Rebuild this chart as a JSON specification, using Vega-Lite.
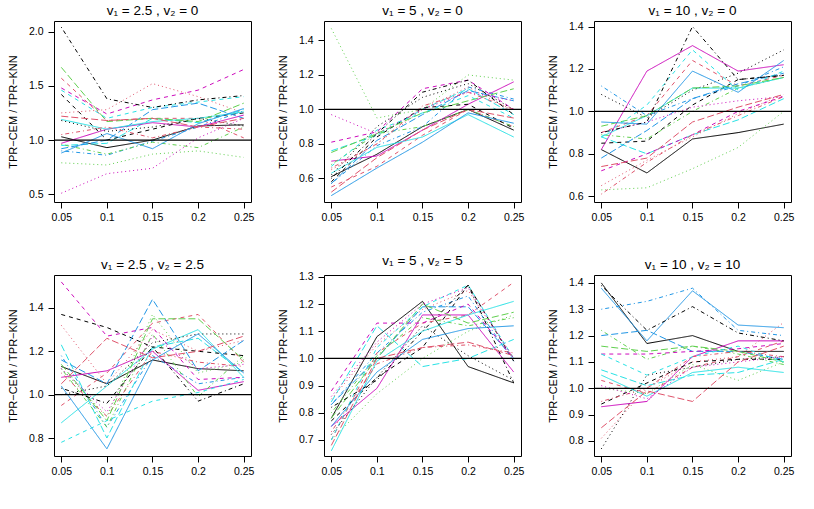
{
"$schema": "https://vega.github.io/schema/vega-lite/v6.json",
"padding": {"left": 6, "top": 3, "right": 5, "bottom": 5},
"background": "white",
"datasets": {"d": [
{"p":1,"s":1,"x":0.05,"y":1.03},{"p":1,"s":1,"x":0.1,"y":0.93},{"p":1,"s":1,"x":0.15,"y":1.0},{"p":1,"s":1,"x":0.2,"y":1.13},{"p":1,"s":1,"x":0.25,"y":1.14},
{"p":1,"s":2,"x":0.05,"y":1.57},{"p":1,"s":2,"x":0.1,"y":1.18},{"p":1,"s":2,"x":0.15,"y":1.2},{"p":1,"s":2,"x":0.2,"y":1.2},{"p":1,"s":2,"x":0.25,"y":1.02},
{"p":1,"s":3,"x":0.05,"y":0.79},{"p":1,"s":3,"x":0.1,"y":0.77},{"p":1,"s":3,"x":0.15,"y":0.87},{"p":1,"s":3,"x":0.2,"y":0.9},{"p":1,"s":3,"x":0.25,"y":0.84},
{"p":1,"s":4,"x":0.05,"y":0.9},{"p":1,"s":4,"x":0.1,"y":0.86},{"p":1,"s":4,"x":0.15,"y":0.99},{"p":1,"s":4,"x":0.2,"y":1.12},{"p":1,"s":4,"x":0.25,"y":1.27},
{"p":1,"s":5,"x":0.05,"y":0.95},{"p":1,"s":5,"x":0.1,"y":0.97},{"p":1,"s":5,"x":0.15,"y":1.2},{"p":1,"s":5,"x":0.2,"y":1.16},{"p":1,"s":5,"x":0.25,"y":1.28},
{"p":1,"s":6,"x":0.05,"y":0.97},{"p":1,"s":6,"x":0.1,"y":1.1},{"p":1,"s":6,"x":0.15,"y":1.16},{"p":1,"s":6,"x":0.2,"y":1.12},{"p":1,"s":6,"x":0.25,"y":1.23},
{"p":1,"s":7,"x":0.05,"y":1.42},{"p":1,"s":7,"x":0.1,"y":1.0},{"p":1,"s":7,"x":0.15,"y":1.1},{"p":1,"s":7,"x":0.2,"y":1.2},{"p":1,"s":7,"x":0.25,"y":1.25},
{"p":1,"s":8,"x":0.05,"y":1.25},{"p":1,"s":8,"x":0.1,"y":1.28},{"p":1,"s":8,"x":0.15,"y":1.52},{"p":1,"s":8,"x":0.2,"y":1.4},{"p":1,"s":8,"x":0.25,"y":1.25},
{"p":1,"s":9,"x":0.05,"y":0.96},{"p":1,"s":9,"x":0.1,"y":0.87},{"p":1,"s":9,"x":0.15,"y":0.98},{"p":1,"s":9,"x":0.2,"y":0.93},{"p":1,"s":9,"x":0.25,"y":1.12},
{"p":1,"s":10,"x":0.05,"y":0.92},{"p":1,"s":10,"x":0.1,"y":1.0},{"p":1,"s":10,"x":0.15,"y":1.28},{"p":1,"s":10,"x":0.2,"y":1.34},{"p":1,"s":10,"x":0.25,"y":1.2},
{"p":1,"s":11,"x":0.05,"y":1.19},{"p":1,"s":11,"x":0.1,"y":1.1},{"p":1,"s":11,"x":0.15,"y":1.17},{"p":1,"s":11,"x":0.2,"y":1.2},{"p":1,"s":11,"x":0.25,"y":1.26},
{"p":1,"s":12,"x":0.05,"y":1.48},{"p":1,"s":12,"x":0.1,"y":1.24},{"p":1,"s":12,"x":0.15,"y":1.37},{"p":1,"s":12,"x":0.2,"y":1.46},{"p":1,"s":12,"x":0.25,"y":1.65},
{"p":1,"s":13,"x":0.05,"y":1.18},{"p":1,"s":13,"x":0.1,"y":1.08},{"p":1,"s":13,"x":0.15,"y":1.12},{"p":1,"s":13,"x":0.2,"y":1.2},{"p":1,"s":13,"x":0.25,"y":1.13},
{"p":1,"s":14,"x":0.05,"y":1.05},{"p":1,"s":14,"x":0.1,"y":1.12},{"p":1,"s":14,"x":0.15,"y":1.02},{"p":1,"s":14,"x":0.2,"y":1.12},{"p":1,"s":14,"x":0.25,"y":1.1},
{"p":1,"s":15,"x":0.05,"y":1.67},{"p":1,"s":15,"x":0.1,"y":1.17},{"p":1,"s":15,"x":0.15,"y":1.2},{"p":1,"s":15,"x":0.2,"y":1.17},{"p":1,"s":15,"x":0.25,"y":1.34},
{"p":1,"s":16,"x":0.05,"y":0.88},{"p":1,"s":16,"x":0.1,"y":1.06},{"p":1,"s":16,"x":0.15,"y":0.92},{"p":1,"s":16,"x":0.2,"y":1.15},{"p":1,"s":16,"x":0.25,"y":1.29},
{"p":1,"s":17,"x":0.05,"y":1.46},{"p":1,"s":17,"x":0.1,"y":1.2},{"p":1,"s":17,"x":0.15,"y":1.3},{"p":1,"s":17,"x":0.2,"y":1.35},{"p":1,"s":17,"x":0.25,"y":1.4},
{"p":1,"s":18,"x":0.05,"y":0.51},{"p":1,"s":18,"x":0.1,"y":0.69},{"p":1,"s":18,"x":0.15,"y":0.74},{"p":1,"s":18,"x":0.2,"y":1.02},{"p":1,"s":18,"x":0.25,"y":1.2},
{"p":1,"s":19,"x":0.05,"y":2.04},{"p":1,"s":19,"x":0.1,"y":1.38},{"p":1,"s":19,"x":0.15,"y":1.3},{"p":1,"s":19,"x":0.2,"y":1.37},{"p":1,"s":19,"x":0.25,"y":1.41},
{"p":1,"s":20,"x":0.05,"y":1.22},{"p":1,"s":20,"x":0.1,"y":1.18},{"p":1,"s":20,"x":0.15,"y":1.2},{"p":1,"s":20,"x":0.2,"y":1.12},{"p":1,"s":20,"x":0.25,"y":1.2},

{"p":2,"s":1,"x":0.05,"y":0.61},{"p":2,"s":1,"x":0.1,"y":0.74},{"p":2,"s":1,"x":0.15,"y":0.9},{"p":2,"s":1,"x":0.2,"y":1.0},{"p":2,"s":1,"x":0.25,"y":0.88},
{"p":2,"s":2,"x":0.05,"y":0.55},{"p":2,"s":2,"x":0.1,"y":0.67},{"p":2,"s":2,"x":0.15,"y":0.85},{"p":2,"s":2,"x":0.2,"y":1.0},{"p":2,"s":2,"x":0.25,"y":0.9},
{"p":2,"s":3,"x":0.05,"y":1.47},{"p":2,"s":3,"x":0.1,"y":0.95},{"p":2,"s":3,"x":0.15,"y":1.0},{"p":2,"s":3,"x":0.2,"y":1.2},{"p":2,"s":3,"x":0.25,"y":1.17},
{"p":2,"s":4,"x":0.05,"y":0.57},{"p":2,"s":4,"x":0.1,"y":0.79},{"p":2,"s":4,"x":0.15,"y":0.9},{"p":2,"s":4,"x":0.2,"y":1.13},{"p":2,"s":4,"x":0.25,"y":1.06},
{"p":2,"s":5,"x":0.05,"y":0.76},{"p":2,"s":5,"x":0.1,"y":0.85},{"p":2,"s":5,"x":0.15,"y":1.0},{"p":2,"s":5,"x":0.2,"y":1.12},{"p":2,"s":5,"x":0.25,"y":0.97},
{"p":2,"s":6,"x":0.05,"y":0.7},{"p":2,"s":6,"x":0.1,"y":0.73},{"p":2,"s":6,"x":0.15,"y":0.88},{"p":2,"s":6,"x":0.2,"y":1.03},{"p":2,"s":6,"x":0.25,"y":1.16},
{"p":2,"s":7,"x":0.05,"y":0.58},{"p":2,"s":7,"x":0.1,"y":0.84},{"p":2,"s":7,"x":0.15,"y":1.01},{"p":2,"s":7,"x":0.2,"y":1.03},{"p":2,"s":7,"x":0.25,"y":0.89},
{"p":2,"s":8,"x":0.05,"y":0.65},{"p":2,"s":8,"x":0.1,"y":0.8},{"p":2,"s":8,"x":0.15,"y":1.0},{"p":2,"s":8,"x":0.2,"y":1.13},{"p":2,"s":8,"x":0.25,"y":0.99},
{"p":2,"s":9,"x":0.05,"y":0.68},{"p":2,"s":9,"x":0.1,"y":0.86},{"p":2,"s":9,"x":0.15,"y":0.9},{"p":2,"s":9,"x":0.2,"y":1.0},{"p":2,"s":9,"x":0.25,"y":0.9},
{"p":2,"s":10,"x":0.05,"y":0.57},{"p":2,"s":10,"x":0.1,"y":0.82},{"p":2,"s":10,"x":0.15,"y":0.97},{"p":2,"s":10,"x":0.2,"y":1.11},{"p":2,"s":10,"x":0.25,"y":1.05},
{"p":2,"s":11,"x":0.05,"y":0.63},{"p":2,"s":11,"x":0.1,"y":0.78},{"p":2,"s":11,"x":0.15,"y":0.84},{"p":2,"s":11,"x":0.2,"y":0.97},{"p":2,"s":11,"x":0.25,"y":0.84},
{"p":2,"s":12,"x":0.05,"y":0.81},{"p":2,"s":12,"x":0.1,"y":0.87},{"p":2,"s":12,"x":0.15,"y":1.12},{"p":2,"s":12,"x":0.2,"y":1.17},{"p":2,"s":12,"x":0.25,"y":1.0},
{"p":2,"s":13,"x":0.05,"y":0.62},{"p":2,"s":13,"x":0.1,"y":0.9},{"p":2,"s":13,"x":0.15,"y":1.07},{"p":2,"s":13,"x":0.2,"y":1.15},{"p":2,"s":13,"x":0.25,"y":1.0},
{"p":2,"s":14,"x":0.05,"y":0.66},{"p":2,"s":14,"x":0.1,"y":0.8},{"p":2,"s":14,"x":0.15,"y":1.02},{"p":2,"s":14,"x":0.2,"y":1.1},{"p":2,"s":14,"x":0.25,"y":1.0},
{"p":2,"s":15,"x":0.05,"y":0.75},{"p":2,"s":15,"x":0.1,"y":0.86},{"p":2,"s":15,"x":0.15,"y":0.98},{"p":2,"s":15,"x":0.2,"y":1.05},{"p":2,"s":15,"x":0.25,"y":1.12},
{"p":2,"s":16,"x":0.05,"y":0.5},{"p":2,"s":16,"x":0.1,"y":0.66},{"p":2,"s":16,"x":0.15,"y":0.81},{"p":2,"s":16,"x":0.2,"y":0.98},{"p":2,"s":16,"x":0.25,"y":0.92},
{"p":2,"s":17,"x":0.05,"y":0.67},{"p":2,"s":17,"x":0.1,"y":0.88},{"p":2,"s":17,"x":0.15,"y":0.98},{"p":2,"s":17,"x":0.2,"y":1.08},{"p":2,"s":17,"x":0.25,"y":0.95},
{"p":2,"s":18,"x":0.05,"y":0.97},{"p":2,"s":18,"x":0.1,"y":0.86},{"p":2,"s":18,"x":0.15,"y":1.0},{"p":2,"s":18,"x":0.2,"y":1.1},{"p":2,"s":18,"x":0.25,"y":1.05},
{"p":2,"s":19,"x":0.05,"y":0.6},{"p":2,"s":19,"x":0.1,"y":0.86},{"p":2,"s":19,"x":0.15,"y":1.1},{"p":2,"s":19,"x":0.2,"y":1.17},{"p":2,"s":19,"x":0.25,"y":0.97},
{"p":2,"s":20,"x":0.05,"y":0.52},{"p":2,"s":20,"x":0.1,"y":0.72},{"p":2,"s":20,"x":0.15,"y":0.88},{"p":2,"s":20,"x":0.2,"y":1.0},{"p":2,"s":20,"x":0.25,"y":0.95},

{"p":3,"s":1,"x":0.05,"y":0.82},{"p":3,"s":1,"x":0.1,"y":0.71},{"p":3,"s":1,"x":0.15,"y":0.87},{"p":3,"s":1,"x":0.2,"y":0.9},{"p":3,"s":1,"x":0.25,"y":0.94},
{"p":3,"s":2,"x":0.05,"y":0.9},{"p":3,"s":2,"x":0.1,"y":0.98},{"p":3,"s":2,"x":0.15,"y":1.24},{"p":3,"s":2,"x":0.2,"y":1.12},{"p":3,"s":2,"x":0.25,"y":1.17},
{"p":3,"s":3,"x":0.05,"y":0.63},{"p":3,"s":3,"x":0.1,"y":0.64},{"p":3,"s":3,"x":0.15,"y":0.73},{"p":3,"s":3,"x":0.2,"y":0.83},{"p":3,"s":3,"x":0.25,"y":1.0},
{"p":3,"s":4,"x":0.05,"y":1.12},{"p":3,"s":4,"x":0.1,"y":0.98},{"p":3,"s":4,"x":0.15,"y":1.06},{"p":3,"s":4,"x":0.2,"y":1.12},{"p":3,"s":4,"x":0.25,"y":1.21},
{"p":3,"s":5,"x":0.05,"y":0.88},{"p":3,"s":5,"x":0.1,"y":0.8},{"p":3,"s":5,"x":0.15,"y":0.89},{"p":3,"s":5,"x":0.2,"y":0.96},{"p":3,"s":5,"x":0.25,"y":1.06},
{"p":3,"s":6,"x":0.05,"y":0.82},{"p":3,"s":6,"x":0.1,"y":1.19},{"p":3,"s":6,"x":0.15,"y":1.31},{"p":3,"s":6,"x":0.2,"y":1.19},{"p":3,"s":6,"x":0.25,"y":1.22},
{"p":3,"s":7,"x":0.05,"y":0.85},{"p":3,"s":7,"x":0.1,"y":0.86},{"p":3,"s":7,"x":0.15,"y":1.03},{"p":3,"s":7,"x":0.2,"y":1.15},{"p":3,"s":7,"x":0.25,"y":1.17},
{"p":3,"s":8,"x":0.05,"y":0.65},{"p":3,"s":8,"x":0.1,"y":0.77},{"p":3,"s":8,"x":0.15,"y":0.88},{"p":3,"s":8,"x":0.2,"y":0.99},{"p":3,"s":8,"x":0.25,"y":1.08},
{"p":3,"s":9,"x":0.05,"y":0.89},{"p":3,"s":9,"x":0.1,"y":0.87},{"p":3,"s":9,"x":0.15,"y":1.0},{"p":3,"s":9,"x":0.2,"y":1.11},{"p":3,"s":9,"x":0.25,"y":1.16},
{"p":3,"s":10,"x":0.05,"y":0.78},{"p":3,"s":10,"x":0.1,"y":0.91},{"p":3,"s":10,"x":0.15,"y":1.06},{"p":3,"s":10,"x":0.2,"y":1.13},{"p":3,"s":10,"x":0.25,"y":1.18},
{"p":3,"s":11,"x":0.05,"y":0.88},{"p":3,"s":11,"x":0.1,"y":0.98},{"p":3,"s":11,"x":0.15,"y":1.11},{"p":3,"s":11,"x":0.2,"y":1.11},{"p":3,"s":11,"x":0.25,"y":1.16},
{"p":3,"s":12,"x":0.05,"y":0.72},{"p":3,"s":12,"x":0.1,"y":0.8},{"p":3,"s":12,"x":0.15,"y":0.89},{"p":3,"s":12,"x":0.2,"y":1.0},{"p":3,"s":12,"x":0.25,"y":1.07},
{"p":3,"s":13,"x":0.05,"y":1.08},{"p":3,"s":13,"x":0.1,"y":0.97},{"p":3,"s":13,"x":0.15,"y":1.1},{"p":3,"s":13,"x":0.2,"y":1.18},{"p":3,"s":13,"x":0.25,"y":1.29},
{"p":3,"s":14,"x":0.05,"y":0.61},{"p":3,"s":14,"x":0.1,"y":0.76},{"p":3,"s":14,"x":0.15,"y":0.89},{"p":3,"s":14,"x":0.2,"y":0.98},{"p":3,"s":14,"x":0.25,"y":1.07},
{"p":3,"s":15,"x":0.05,"y":0.93},{"p":3,"s":15,"x":0.1,"y":0.98},{"p":3,"s":15,"x":0.15,"y":1.11},{"p":3,"s":15,"x":0.2,"y":1.12},{"p":3,"s":15,"x":0.25,"y":1.16},
{"p":3,"s":16,"x":0.05,"y":0.95},{"p":3,"s":16,"x":0.1,"y":0.94},{"p":3,"s":16,"x":0.15,"y":1.19},{"p":3,"s":16,"x":0.2,"y":1.09},{"p":3,"s":16,"x":0.25,"y":1.24},
{"p":3,"s":17,"x":0.05,"y":0.88},{"p":3,"s":17,"x":0.1,"y":1.03},{"p":3,"s":17,"x":0.15,"y":1.29},{"p":3,"s":17,"x":0.2,"y":1.1},{"p":3,"s":17,"x":0.25,"y":1.19},
{"p":3,"s":18,"x":0.05,"y":0.9},{"p":3,"s":18,"x":0.1,"y":0.95},{"p":3,"s":18,"x":0.15,"y":1.02},{"p":3,"s":18,"x":0.2,"y":1.05},{"p":3,"s":18,"x":0.25,"y":1.07},
{"p":3,"s":19,"x":0.05,"y":0.9},{"p":3,"s":19,"x":0.1,"y":0.95},{"p":3,"s":19,"x":0.15,"y":1.4},{"p":3,"s":19,"x":0.2,"y":1.15},{"p":3,"s":19,"x":0.25,"y":1.17},
{"p":3,"s":20,"x":0.05,"y":0.74},{"p":3,"s":20,"x":0.1,"y":0.78},{"p":3,"s":20,"x":0.15,"y":0.95},{"p":3,"s":20,"x":0.2,"y":1.02},{"p":3,"s":20,"x":0.25,"y":1.08},

{"p":4,"s":1,"x":0.05,"y":1.13},{"p":4,"s":1,"x":0.1,"y":1.05},{"p":4,"s":1,"x":0.15,"y":1.16},{"p":4,"s":1,"x":0.2,"y":1.12},{"p":4,"s":1,"x":0.25,"y":1.11},
{"p":4,"s":2,"x":0.05,"y":0.95},{"p":4,"s":2,"x":0.1,"y":1.1},{"p":4,"s":2,"x":0.15,"y":1.33},{"p":4,"s":2,"x":0.2,"y":1.37},{"p":4,"s":2,"x":0.25,"y":1.15},
{"p":4,"s":3,"x":0.05,"y":1.12},{"p":4,"s":3,"x":0.1,"y":0.9},{"p":4,"s":3,"x":0.15,"y":1.37},{"p":4,"s":3,"x":0.2,"y":1.1},{"p":4,"s":3,"x":0.25,"y":1.15},
{"p":4,"s":4,"x":0.05,"y":1.18},{"p":4,"s":4,"x":0.1,"y":0.85},{"p":4,"s":4,"x":0.15,"y":1.18},{"p":4,"s":4,"x":0.2,"y":1.05},{"p":4,"s":4,"x":0.25,"y":1.08},
{"p":4,"s":5,"x":0.05,"y":1.23},{"p":4,"s":5,"x":0.1,"y":0.8},{"p":4,"s":5,"x":0.15,"y":1.22},{"p":4,"s":5,"x":0.2,"y":1.26},{"p":4,"s":5,"x":0.25,"y":1.1},
{"p":4,"s":6,"x":0.05,"y":1.08},{"p":4,"s":6,"x":0.1,"y":1.11},{"p":4,"s":6,"x":0.15,"y":1.2},{"p":4,"s":6,"x":0.2,"y":1.02},{"p":4,"s":6,"x":0.25,"y":1.06},
{"p":4,"s":7,"x":0.05,"y":1.37},{"p":4,"s":7,"x":0.1,"y":1.31},{"p":4,"s":7,"x":0.15,"y":1.22},{"p":4,"s":7,"x":0.2,"y":1.2},{"p":4,"s":7,"x":0.25,"y":1.18},
{"p":4,"s":8,"x":0.05,"y":1.32},{"p":4,"s":8,"x":0.1,"y":1.05},{"p":4,"s":8,"x":0.15,"y":1.3},{"p":4,"s":8,"x":0.2,"y":1.2},{"p":4,"s":8,"x":0.25,"y":1.25},
{"p":4,"s":9,"x":0.05,"y":1.12},{"p":4,"s":9,"x":0.1,"y":0.85},{"p":4,"s":9,"x":0.15,"y":1.28},{"p":4,"s":9,"x":0.2,"y":0.99},{"p":4,"s":9,"x":0.25,"y":1.18},
{"p":4,"s":10,"x":0.05,"y":1.16},{"p":4,"s":10,"x":0.1,"y":1.05},{"p":4,"s":10,"x":0.15,"y":1.44},{"p":4,"s":10,"x":0.2,"y":1.11},{"p":4,"s":10,"x":0.25,"y":1.25},
{"p":4,"s":11,"x":0.05,"y":0.87},{"p":4,"s":11,"x":0.1,"y":1.04},{"p":4,"s":11,"x":0.15,"y":1.21},{"p":4,"s":11,"x":0.2,"y":1.3},{"p":4,"s":11,"x":0.25,"y":1.08},
{"p":4,"s":12,"x":0.05,"y":1.52},{"p":4,"s":12,"x":0.1,"y":1.27},{"p":4,"s":12,"x":0.15,"y":1.31},{"p":4,"s":12,"x":0.2,"y":1.07},{"p":4,"s":12,"x":0.25,"y":1.08},
{"p":4,"s":13,"x":0.05,"y":1.0},{"p":4,"s":13,"x":0.1,"y":1.04},{"p":4,"s":13,"x":0.15,"y":1.24},{"p":4,"s":13,"x":0.2,"y":1.28},{"p":4,"s":13,"x":0.25,"y":1.28},
{"p":4,"s":14,"x":0.05,"y":1.1},{"p":4,"s":14,"x":0.1,"y":0.9},{"p":4,"s":14,"x":0.15,"y":1.2},{"p":4,"s":14,"x":0.2,"y":1.15},{"p":4,"s":14,"x":0.25,"y":1.13},
{"p":4,"s":15,"x":0.05,"y":1.14},{"p":4,"s":15,"x":0.1,"y":0.88},{"p":4,"s":15,"x":0.15,"y":1.35},{"p":4,"s":15,"x":0.2,"y":1.35},{"p":4,"s":15,"x":0.25,"y":1.16},
{"p":4,"s":16,"x":0.05,"y":1.04},{"p":4,"s":16,"x":0.1,"y":0.75},{"p":4,"s":16,"x":0.15,"y":1.16},{"p":4,"s":16,"x":0.2,"y":1.28},{"p":4,"s":16,"x":0.25,"y":1.1},
{"p":4,"s":17,"x":0.05,"y":0.78},{"p":4,"s":17,"x":0.1,"y":0.88},{"p":4,"s":17,"x":0.15,"y":0.97},{"p":4,"s":17,"x":0.2,"y":1.01},{"p":4,"s":17,"x":0.25,"y":1.07},
{"p":4,"s":18,"x":0.05,"y":1.12},{"p":4,"s":18,"x":0.1,"y":0.92},{"p":4,"s":18,"x":0.15,"y":1.27},{"p":4,"s":18,"x":0.2,"y":1.12},{"p":4,"s":18,"x":0.25,"y":1.14},
{"p":4,"s":19,"x":0.05,"y":1.03},{"p":4,"s":19,"x":0.1,"y":0.96},{"p":4,"s":19,"x":0.15,"y":1.22},{"p":4,"s":19,"x":0.2,"y":0.97},{"p":4,"s":19,"x":0.25,"y":1.05},
{"p":4,"s":20,"x":0.05,"y":1.05},{"p":4,"s":20,"x":0.1,"y":1.26},{"p":4,"s":20,"x":0.15,"y":1.17},{"p":4,"s":20,"x":0.2,"y":1.2},{"p":4,"s":20,"x":0.25,"y":1.27},

{"p":5,"s":1,"x":0.05,"y":0.78},{"p":5,"s":1,"x":0.1,"y":1.08},{"p":5,"s":1,"x":0.15,"y":1.21},{"p":5,"s":1,"x":0.2,"y":0.97},{"p":5,"s":1,"x":0.25,"y":0.91},
{"p":5,"s":2,"x":0.05,"y":0.7},{"p":5,"s":2,"x":0.1,"y":1.02},{"p":5,"s":2,"x":0.15,"y":1.13},{"p":5,"s":2,"x":0.2,"y":1.16},{"p":5,"s":2,"x":0.25,"y":1.28},
{"p":5,"s":3,"x":0.05,"y":0.7},{"p":5,"s":3,"x":0.1,"y":0.87},{"p":5,"s":3,"x":0.15,"y":1.0},{"p":5,"s":3,"x":0.2,"y":1.1},{"p":5,"s":3,"x":0.25,"y":1.16},
{"p":5,"s":4,"x":0.05,"y":0.83},{"p":5,"s":4,"x":0.1,"y":1.02},{"p":5,"s":4,"x":0.15,"y":1.17},{"p":5,"s":4,"x":0.2,"y":1.23},{"p":5,"s":4,"x":0.25,"y":0.99},
{"p":5,"s":5,"x":0.05,"y":0.84},{"p":5,"s":5,"x":0.1,"y":1.12},{"p":5,"s":5,"x":0.15,"y":0.97},{"p":5,"s":5,"x":0.2,"y":1.0},{"p":5,"s":5,"x":0.25,"y":1.07},
{"p":5,"s":6,"x":0.05,"y":0.75},{"p":5,"s":6,"x":0.1,"y":0.89},{"p":5,"s":6,"x":0.15,"y":1.16},{"p":5,"s":6,"x":0.2,"y":1.16},{"p":5,"s":6,"x":0.25,"y":0.95},
{"p":5,"s":7,"x":0.05,"y":0.77},{"p":5,"s":7,"x":0.1,"y":0.93},{"p":5,"s":7,"x":0.15,"y":1.04},{"p":5,"s":7,"x":0.2,"y":1.27},{"p":5,"s":7,"x":0.25,"y":0.99},
{"p":5,"s":8,"x":0.05,"y":0.85},{"p":5,"s":8,"x":0.1,"y":1.05},{"p":5,"s":8,"x":0.15,"y":1.18},{"p":5,"s":8,"x":0.2,"y":1.25},{"p":5,"s":8,"x":0.25,"y":1.0},
{"p":5,"s":9,"x":0.05,"y":0.8},{"p":5,"s":9,"x":0.1,"y":1.01},{"p":5,"s":9,"x":0.15,"y":1.15},{"p":5,"s":9,"x":0.2,"y":1.12},{"p":5,"s":9,"x":0.25,"y":1.15},
{"p":5,"s":10,"x":0.05,"y":0.83},{"p":5,"s":10,"x":0.1,"y":1.0},{"p":5,"s":10,"x":0.15,"y":1.19},{"p":5,"s":10,"x":0.2,"y":1.19},{"p":5,"s":10,"x":0.25,"y":1.0},
{"p":5,"s":11,"x":0.05,"y":0.66},{"p":5,"s":11,"x":0.1,"y":0.99},{"p":5,"s":11,"x":0.15,"y":1.1},{"p":5,"s":11,"x":0.2,"y":1.16},{"p":5,"s":11,"x":0.25,"y":1.21},
{"p":5,"s":12,"x":0.05,"y":0.88},{"p":5,"s":12,"x":0.1,"y":1.13},{"p":5,"s":12,"x":0.15,"y":1.13},{"p":5,"s":12,"x":0.2,"y":1.2},{"p":5,"s":12,"x":0.25,"y":1.0},
{"p":5,"s":13,"x":0.05,"y":0.72},{"p":5,"s":13,"x":0.1,"y":0.93},{"p":5,"s":13,"x":0.15,"y":1.12},{"p":5,"s":13,"x":0.2,"y":1.01},{"p":5,"s":13,"x":0.25,"y":0.92},
{"p":5,"s":14,"x":0.05,"y":0.73},{"p":5,"s":14,"x":0.1,"y":0.98},{"p":5,"s":14,"x":0.15,"y":1.04},{"p":5,"s":14,"x":0.2,"y":1.05},{"p":5,"s":14,"x":0.25,"y":1.02},
{"p":5,"s":15,"x":0.05,"y":0.78},{"p":5,"s":15,"x":0.1,"y":1.0},{"p":5,"s":15,"x":0.15,"y":1.2},{"p":5,"s":15,"x":0.2,"y":1.13},{"p":5,"s":15,"x":0.25,"y":1.17},
{"p":5,"s":16,"x":0.05,"y":0.75},{"p":5,"s":16,"x":0.1,"y":0.95},{"p":5,"s":16,"x":0.15,"y":1.07},{"p":5,"s":16,"x":0.2,"y":1.11},{"p":5,"s":16,"x":0.25,"y":1.12},
{"p":5,"s":17,"x":0.05,"y":0.7},{"p":5,"s":17,"x":0.1,"y":1.04},{"p":5,"s":17,"x":0.15,"y":1.19},{"p":5,"s":17,"x":0.2,"y":1.27},{"p":5,"s":17,"x":0.25,"y":1.0},
{"p":5,"s":18,"x":0.05,"y":0.86},{"p":5,"s":18,"x":0.1,"y":1.06},{"p":5,"s":18,"x":0.15,"y":1.2},{"p":5,"s":18,"x":0.2,"y":1.26},{"p":5,"s":18,"x":0.25,"y":1.0},
{"p":5,"s":19,"x":0.05,"y":0.82},{"p":5,"s":19,"x":0.1,"y":0.92},{"p":5,"s":19,"x":0.15,"y":1.1},{"p":5,"s":19,"x":0.2,"y":1.27},{"p":5,"s":19,"x":0.25,"y":0.91},
{"p":5,"s":20,"x":0.05,"y":0.68},{"p":5,"s":20,"x":0.1,"y":1.0},{"p":5,"s":20,"x":0.15,"y":1.04},{"p":5,"s":20,"x":0.2,"y":1.06},{"p":5,"s":20,"x":0.25,"y":1.01},

{"p":6,"s":1,"x":0.05,"y":1.4},{"p":6,"s":1,"x":0.1,"y":1.17},{"p":6,"s":1,"x":0.15,"y":1.2},{"p":6,"s":1,"x":0.2,"y":1.14},{"p":6,"s":1,"x":0.25,"y":1.14},
{"p":6,"s":2,"x":0.05,"y":1.03},{"p":6,"s":2,"x":0.1,"y":0.98},{"p":6,"s":2,"x":0.15,"y":1.08},{"p":6,"s":2,"x":0.2,"y":1.12},{"p":6,"s":2,"x":0.25,"y":1.18},
{"p":6,"s":3,"x":0.05,"y":1.0},{"p":6,"s":3,"x":0.1,"y":0.98},{"p":6,"s":3,"x":0.15,"y":1.09},{"p":6,"s":3,"x":0.2,"y":1.03},{"p":6,"s":3,"x":0.25,"y":1.1},
{"p":6,"s":4,"x":0.05,"y":1.3},{"p":6,"s":4,"x":0.1,"y":1.33},{"p":6,"s":4,"x":0.15,"y":1.38},{"p":6,"s":4,"x":0.2,"y":1.22},{"p":6,"s":4,"x":0.25,"y":1.2},
{"p":6,"s":5,"x":0.05,"y":1.07},{"p":6,"s":5,"x":0.1,"y":1.01},{"p":6,"s":5,"x":0.15,"y":1.05},{"p":6,"s":5,"x":0.2,"y":1.06},{"p":6,"s":5,"x":0.25,"y":1.11},
{"p":6,"s":6,"x":0.05,"y":0.93},{"p":6,"s":6,"x":0.1,"y":0.95},{"p":6,"s":6,"x":0.15,"y":1.12},{"p":6,"s":6,"x":0.2,"y":1.18},{"p":6,"s":6,"x":0.25,"y":1.18},
{"p":6,"s":7,"x":0.05,"y":0.94},{"p":6,"s":7,"x":0.1,"y":1.02},{"p":6,"s":7,"x":0.15,"y":1.1},{"p":6,"s":7,"x":0.2,"y":1.11},{"p":6,"s":7,"x":0.25,"y":1.11},
{"p":6,"s":8,"x":0.05,"y":0.81},{"p":6,"s":8,"x":0.1,"y":1.0},{"p":6,"s":8,"x":0.15,"y":1.1},{"p":6,"s":8,"x":0.2,"y":1.12},{"p":6,"s":8,"x":0.25,"y":1.25},
{"p":6,"s":9,"x":0.05,"y":1.22},{"p":6,"s":9,"x":0.1,"y":1.11},{"p":6,"s":9,"x":0.15,"y":1.16},{"p":6,"s":9,"x":0.2,"y":1.13},{"p":6,"s":9,"x":0.25,"y":1.09},
{"p":6,"s":10,"x":0.05,"y":1.2},{"p":6,"s":10,"x":0.1,"y":1.22},{"p":6,"s":10,"x":0.15,"y":1.14},{"p":6,"s":10,"x":0.2,"y":1.14},{"p":6,"s":10,"x":0.25,"y":1.11},
{"p":6,"s":11,"x":0.05,"y":1.05},{"p":6,"s":11,"x":0.1,"y":0.97},{"p":6,"s":11,"x":0.15,"y":1.06},{"p":6,"s":11,"x":0.2,"y":1.08},{"p":6,"s":11,"x":0.25,"y":1.06},
{"p":6,"s":12,"x":0.05,"y":1.13},{"p":6,"s":12,"x":0.1,"y":1.13},{"p":6,"s":12,"x":0.15,"y":1.14},{"p":6,"s":12,"x":0.2,"y":1.15},{"p":6,"s":12,"x":0.25,"y":1.17},
{"p":6,"s":13,"x":0.05,"y":0.77},{"p":6,"s":13,"x":0.1,"y":1.05},{"p":6,"s":13,"x":0.15,"y":1.08},{"p":6,"s":13,"x":0.2,"y":1.11},{"p":6,"s":13,"x":0.25,"y":1.12},
{"p":6,"s":14,"x":0.05,"y":0.95},{"p":6,"s":14,"x":0.1,"y":1.0},{"p":6,"s":14,"x":0.15,"y":1.12},{"p":6,"s":14,"x":0.2,"y":1.14},{"p":6,"s":14,"x":0.25,"y":1.12},
{"p":6,"s":15,"x":0.05,"y":1.16},{"p":6,"s":15,"x":0.1,"y":1.14},{"p":6,"s":15,"x":0.15,"y":1.16},{"p":6,"s":15,"x":0.2,"y":1.14},{"p":6,"s":15,"x":0.25,"y":1.1},
{"p":6,"s":16,"x":0.05,"y":1.38},{"p":6,"s":16,"x":0.1,"y":1.18},{"p":6,"s":16,"x":0.15,"y":1.37},{"p":6,"s":16,"x":0.2,"y":1.24},{"p":6,"s":16,"x":0.25,"y":1.23},
{"p":6,"s":17,"x":0.05,"y":1.13},{"p":6,"s":17,"x":0.1,"y":1.05},{"p":6,"s":17,"x":0.15,"y":1.12},{"p":6,"s":17,"x":0.2,"y":1.16},{"p":6,"s":17,"x":0.25,"y":1.1},
{"p":6,"s":18,"x":0.05,"y":1.01},{"p":6,"s":18,"x":0.1,"y":0.96},{"p":6,"s":18,"x":0.15,"y":1.08},{"p":6,"s":18,"x":0.2,"y":1.1},{"p":6,"s":18,"x":0.25,"y":1.12},
{"p":6,"s":19,"x":0.05,"y":1.39},{"p":6,"s":19,"x":0.1,"y":1.22},{"p":6,"s":19,"x":0.15,"y":1.31},{"p":6,"s":19,"x":0.2,"y":1.21},{"p":6,"s":19,"x":0.25,"y":1.18},
{"p":6,"s":20,"x":0.05,"y":0.85},{"p":6,"s":20,"x":0.1,"y":0.99},{"p":6,"s":20,"x":0.15,"y":0.95},{"p":6,"s":20,"x":0.2,"y":1.1},{"p":6,"s":20,"x":0.25,"y":1.16}
]},
"data": {"name": "d"},
"columns": 3,
"spacing": {"row": 73, "column": 73},
"bounds": "flush",
"concat": [
{"title": "v₁ = 2.5 , v₂ = 0", "width": 197, "height": 181, "layer": [
 {"transform": [{"filter": "datum.p == 1"}], "mark": {"type": "line", "strokeWidth": 1},
  "encoding": {
   "x": {"field": "x", "type": "quantitative", "scale": {"domain": [0.042, 0.258], "nice": false, "zero": false}, "axis": {"values": [0.05, 0.1, 0.15, 0.2, 0.25], "tickCount": 10, "format": "~g", "title": null, "labelOverlap": false}},
   "y": {"field": "y", "type": "quantitative", "scale": {"domain": [0.429, 2.097], "nice": false, "zero": false}, "axis": {"values": [0.5, 1.0, 1.5, 2.0], "tickCount": 10, "format": ".1f", "title": "TPR−CEM / TPR−KNN", "labelOverlap": false}},
   "color": {"field": "s", "type": "nominal", "scale": {"domain": [1,2,3,4,5,6,7,8,9,10,11,12,13,14,15,16,17,18,19,20], "range": ["#000000","#DF536B","#61D04F","#2297E6","#28E2E5","#CD0BBC","#000000","#DF536B","#61D04F","#2297E6","#28E2E5","#CD0BBC","#000000","#DF536B","#61D04F","#2297E6","#28E2E5","#CD0BBC","#000000","#DF536B"]}, "legend": null},
   "strokeDash": {"field": "s", "type": "nominal", "scale": {"domain": [1,2,3,4,5,6,7,8,9,10,11,12,13,14,15,16,17,18,19,20], "range": [[1,0],[4,4],[1,3],[1,3,4,3],[7,3],[1,0],[4,4],[1,3],[1,3,4,3],[7,3],[1,0],[4,4],[1,3],[1,3,4,3],[7,3],[1,0],[4,4],[1,3],[1,3,4,3],[7,3]]}, "legend": null}
  }},
 {"data": {"values": [{}]}, "mark": {"type": "rule", "color": "black", "strokeWidth": 1.3}, "encoding": {"y": {"datum": 1}}}
]},
{"title": "v₁ = 5 , v₂ = 0", "width": 197, "height": 181, "layer": [
 {"transform": [{"filter": "datum.p == 2"}], "mark": {"type": "line", "strokeWidth": 1},
  "encoding": {
   "x": {"field": "x", "type": "quantitative", "scale": {"domain": [0.042, 0.258], "nice": false, "zero": false}, "axis": {"values": [0.05, 0.1, 0.15, 0.2, 0.25], "tickCount": 10, "format": "~g", "title": null, "labelOverlap": false}},
   "y": {"field": "y", "type": "quantitative", "scale": {"domain": [0.463, 1.513], "nice": false, "zero": false}, "axis": {"values": [0.6, 0.8, 1.0, 1.2, 1.4], "tickCount": 10, "format": ".1f", "title": "TPR−CEM / TPR−KNN", "labelOverlap": false}},
   "color": {"field": "s", "type": "nominal", "scale": {"domain": [1,2,3,4,5,6,7,8,9,10,11,12,13,14,15,16,17,18,19,20], "range": ["#000000","#DF536B","#61D04F","#2297E6","#28E2E5","#CD0BBC","#000000","#DF536B","#61D04F","#2297E6","#28E2E5","#CD0BBC","#000000","#DF536B","#61D04F","#2297E6","#28E2E5","#CD0BBC","#000000","#DF536B"]}, "legend": null},
   "strokeDash": {"field": "s", "type": "nominal", "scale": {"domain": [1,2,3,4,5,6,7,8,9,10,11,12,13,14,15,16,17,18,19,20], "range": [[1,0],[4,4],[1,3],[1,3,4,3],[7,3],[1,0],[4,4],[1,3],[1,3,4,3],[7,3],[1,0],[4,4],[1,3],[1,3,4,3],[7,3],[1,0],[4,4],[1,3],[1,3,4,3],[7,3]]}, "legend": null}
  }},
 {"data": {"values": [{}]}, "mark": {"type": "rule", "color": "black", "strokeWidth": 1.3}, "encoding": {"y": {"datum": 1}}}
]},
{"title": "v₁ = 10 , v₂ = 0", "width": 197, "height": 181, "layer": [
 {"transform": [{"filter": "datum.p == 3"}], "mark": {"type": "line", "strokeWidth": 1},
  "encoding": {
   "x": {"field": "x", "type": "quantitative", "scale": {"domain": [0.042, 0.258], "nice": false, "zero": false}, "axis": {"values": [0.05, 0.1, 0.15, 0.2, 0.25], "tickCount": 10, "format": "~g", "title": null, "labelOverlap": false}},
   "y": {"field": "y", "type": "quantitative", "scale": {"domain": [0.573, 1.426], "nice": false, "zero": false}, "axis": {"values": [0.6, 0.8, 1.0, 1.2, 1.4], "tickCount": 10, "format": ".1f", "title": "TPR−CEM / TPR−KNN", "labelOverlap": false}},
   "color": {"field": "s", "type": "nominal", "scale": {"domain": [1,2,3,4,5,6,7,8,9,10,11,12,13,14,15,16,17,18,19,20], "range": ["#000000","#DF536B","#61D04F","#2297E6","#28E2E5","#CD0BBC","#000000","#DF536B","#61D04F","#2297E6","#28E2E5","#CD0BBC","#000000","#DF536B","#61D04F","#2297E6","#28E2E5","#CD0BBC","#000000","#DF536B"]}, "legend": null},
   "strokeDash": {"field": "s", "type": "nominal", "scale": {"domain": [1,2,3,4,5,6,7,8,9,10,11,12,13,14,15,16,17,18,19,20], "range": [[1,0],[4,4],[1,3],[1,3,4,3],[7,3],[1,0],[4,4],[1,3],[1,3,4,3],[7,3],[1,0],[4,4],[1,3],[1,3,4,3],[7,3],[1,0],[4,4],[1,3],[1,3,4,3],[7,3]]}, "legend": null}
  }},
 {"data": {"values": [{}]}, "mark": {"type": "rule", "color": "black", "strokeWidth": 1.3}, "encoding": {"y": {"datum": 1}}}
]},
{"title": "v₁ = 2.5 , v₂ = 2.5", "width": 197, "height": 181, "layer": [
 {"transform": [{"filter": "datum.p == 4"}], "mark": {"type": "line", "strokeWidth": 1},
  "encoding": {
   "x": {"field": "x", "type": "quantitative", "scale": {"domain": [0.042, 0.258], "nice": false, "zero": false}, "axis": {"values": [0.05, 0.1, 0.15, 0.2, 0.25], "tickCount": 10, "format": "~g", "title": null, "labelOverlap": false}},
   "y": {"field": "y", "type": "quantitative", "scale": {"domain": [0.717, 1.552], "nice": false, "zero": false}, "axis": {"values": [0.8, 1.0, 1.2, 1.4], "tickCount": 10, "format": ".1f", "title": "TPR−CEM / TPR−KNN", "labelOverlap": false}},
   "color": {"field": "s", "type": "nominal", "scale": {"domain": [1,2,3,4,5,6,7,8,9,10,11,12,13,14,15,16,17,18,19,20], "range": ["#000000","#DF536B","#61D04F","#2297E6","#28E2E5","#CD0BBC","#000000","#DF536B","#61D04F","#2297E6","#28E2E5","#CD0BBC","#000000","#DF536B","#61D04F","#2297E6","#28E2E5","#CD0BBC","#000000","#DF536B"]}, "legend": null},
   "strokeDash": {"field": "s", "type": "nominal", "scale": {"domain": [1,2,3,4,5,6,7,8,9,10,11,12,13,14,15,16,17,18,19,20], "range": [[1,0],[4,4],[1,3],[1,3,4,3],[7,3],[1,0],[4,4],[1,3],[1,3,4,3],[7,3],[1,0],[4,4],[1,3],[1,3,4,3],[7,3],[1,0],[4,4],[1,3],[1,3,4,3],[7,3]]}, "legend": null}
  }},
 {"data": {"values": [{}]}, "mark": {"type": "rule", "color": "black", "strokeWidth": 1.3}, "encoding": {"y": {"datum": 1}}}
]},
{"title": "v₁ = 5 , v₂ = 5", "width": 197, "height": 181, "layer": [
 {"transform": [{"filter": "datum.p == 5"}], "mark": {"type": "line", "strokeWidth": 1},
  "encoding": {
   "x": {"field": "x", "type": "quantitative", "scale": {"domain": [0.042, 0.258], "nice": false, "zero": false}, "axis": {"values": [0.05, 0.1, 0.15, 0.2, 0.25], "tickCount": 10, "format": "~g", "title": null, "labelOverlap": false}},
   "y": {"field": "y", "type": "quantitative", "scale": {"domain": [0.641, 1.307], "nice": false, "zero": false}, "axis": {"values": [0.7, 0.8, 0.9, 1.0, 1.1, 1.2, 1.3], "tickCount": 10, "format": ".1f", "title": "TPR−CEM / TPR−KNN", "labelOverlap": false}},
   "color": {"field": "s", "type": "nominal", "scale": {"domain": [1,2,3,4,5,6,7,8,9,10,11,12,13,14,15,16,17,18,19,20], "range": ["#000000","#DF536B","#61D04F","#2297E6","#28E2E5","#CD0BBC","#000000","#DF536B","#61D04F","#2297E6","#28E2E5","#CD0BBC","#000000","#DF536B","#61D04F","#2297E6","#28E2E5","#CD0BBC","#000000","#DF536B"]}, "legend": null},
   "strokeDash": {"field": "s", "type": "nominal", "scale": {"domain": [1,2,3,4,5,6,7,8,9,10,11,12,13,14,15,16,17,18,19,20], "range": [[1,0],[4,4],[1,3],[1,3,4,3],[7,3],[1,0],[4,4],[1,3],[1,3,4,3],[7,3],[1,0],[4,4],[1,3],[1,3,4,3],[7,3],[1,0],[4,4],[1,3],[1,3,4,3],[7,3]]}, "legend": null}
  }},
 {"data": {"values": [{}]}, "mark": {"type": "rule", "color": "black", "strokeWidth": 1.3}, "encoding": {"y": {"datum": 1}}}
]},
{"title": "v₁ = 10 , v₂ = 10", "width": 197, "height": 181, "layer": [
 {"transform": [{"filter": "datum.p == 6"}], "mark": {"type": "line", "strokeWidth": 1},
  "encoding": {
   "x": {"field": "x", "type": "quantitative", "scale": {"domain": [0.042, 0.258], "nice": false, "zero": false}, "axis": {"values": [0.05, 0.1, 0.15, 0.2, 0.25], "tickCount": 10, "format": "~g", "title": null, "labelOverlap": false}},
   "y": {"field": "y", "type": "quantitative", "scale": {"domain": [0.743, 1.43], "nice": false, "zero": false}, "axis": {"values": [0.8, 0.9, 1.0, 1.1, 1.2, 1.3, 1.4], "tickCount": 10, "format": ".1f", "title": "TPR−CEM / TPR−KNN", "labelOverlap": false}},
   "color": {"field": "s", "type": "nominal", "scale": {"domain": [1,2,3,4,5,6,7,8,9,10,11,12,13,14,15,16,17,18,19,20], "range": ["#000000","#DF536B","#61D04F","#2297E6","#28E2E5","#CD0BBC","#000000","#DF536B","#61D04F","#2297E6","#28E2E5","#CD0BBC","#000000","#DF536B","#61D04F","#2297E6","#28E2E5","#CD0BBC","#000000","#DF536B"]}, "legend": null},
   "strokeDash": {"field": "s", "type": "nominal", "scale": {"domain": [1,2,3,4,5,6,7,8,9,10,11,12,13,14,15,16,17,18,19,20], "range": [[1,0],[4,4],[1,3],[1,3,4,3],[7,3],[1,0],[4,4],[1,3],[1,3,4,3],[7,3],[1,0],[4,4],[1,3],[1,3,4,3],[7,3],[1,0],[4,4],[1,3],[1,3,4,3],[7,3]]}, "legend": null}
  }},
 {"data": {"values": [{}]}, "mark": {"type": "rule", "color": "black", "strokeWidth": 1.3}, "encoding": {"y": {"datum": 1}}}
]}
],
"config": {
 "font": "Liberation Sans",
 "view": {"stroke": "black", "strokeWidth": 1},
 "axis": {"grid": false, "domain": false, "tickColor": "black", "tickSize": 6, "labelColor": "black", "labelFontSize": 10.5, "labelFont": "Liberation Sans", "titleFont": "Liberation Sans", "titleFontSize": 11, "titleFontWeight": "normal", "titleColor": "black", "labelOverlap": false, "labelFlush": false, "labelBound": false},
 "axisX": {"labelPadding": 4},
 "axisY": {"labelPadding": 5, "titlePadding": 10},
 "title": {"fontSize": 13.5, "fontWeight": "normal", "color": "black", "offset": 4, "font": "Liberation Sans"}
}
}
